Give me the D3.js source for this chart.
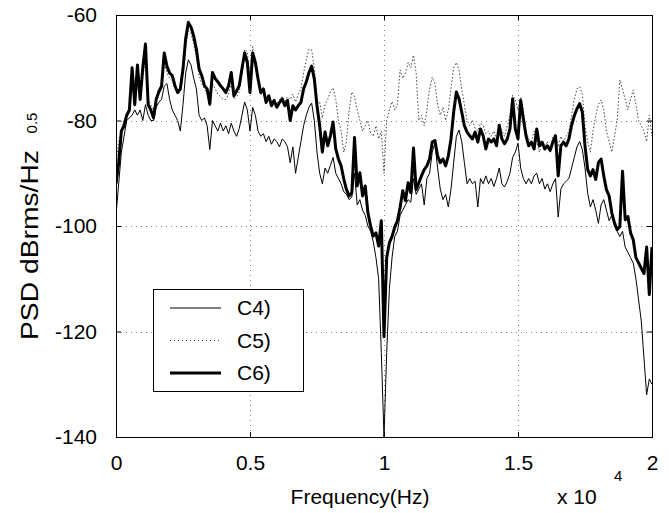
<!DOCTYPE html>
<html lang="en">
<head>
  <meta charset="UTF-8">
  <title>PSD</title>
  <style>
    * { margin: 0; padding: 0; box-sizing: border-box; }
    body { background: #fff; width: 669px; height: 513px; overflow: hidden; }
    svg { font-family: "Liberation Sans", Arial, sans-serif; }
    .tick text { font-size: 21px; fill: #000; }
  </style>
</head>
<body>
  <div id="chart"></div>
  <script src="https://d3js.org/d3.v7.min.js"></script>
  <script>
    // frequency axis, units of 10^4 Hz
    const freq = d3.range(0, 201).map(i => i / 100);

    const xTicks = [0, 0.5, 1, 1.5, 2];
    const yTicks = [-140, -120, -100, -80, -60];
    const seriesNames = ["C4)", "C5)", "C6)"];

    // C4) thin solid
    const c4 = [
      -98, -92, -86, -83, -80, -79.5, -79, -78, -79, -78,
      -80, -77, -79, -80, -80, -77.5, -76.5, -76, -73.5, -73,
      -76, -78, -79, -80, -82, -77, -71, -68.5, -69.5, -72,
      -74, -79, -80, -79.5, -81, -85.5, -80, -81, -82, -80.5,
      -82, -81, -82.5, -80.5, -82, -83, -81.5, -79, -76.5, -78,
      -82, -77.5, -79, -82, -83, -82.5, -84, -83, -84.5, -83.5,
      -84, -85, -83.5, -84, -85, -88, -85, -90, -87, -84,
      -81, -79, -77.5, -76.7, -80, -86, -90, -92, -89, -90,
      -88.5, -87, -90, -91, -92, -93.5, -94, -95, -94.5, -90,
      -96, -95, -97, -98, -100, -101, -103, -106, -110, -124,
      -140, -124, -112, -106, -102, -101, -98, -97, -96, -95,
      -95.5, -91, -94, -93, -92, -96, -91, -90, -86, -84.3,
      -89, -93, -95, -94, -96.4, -93, -88, -83, -81.8, -84,
      -88, -92, -91, -92, -91.5, -96.4, -91, -92, -90.5, -92,
      -91, -92.5, -91, -89, -92, -92.6, -91.5, -90, -87, -86,
      -84.3, -89, -91, -92, -91, -92, -90.5, -90, -92, -91,
      -93, -92, -93.5, -92, -91, -98.3, -93, -92, -91.5, -91,
      -89, -87, -85, -84, -85.5, -89, -93.8, -96.4, -95, -97,
      -99.5, -96, -95, -97, -99, -98, -100, -101, -102, -101,
      -104, -105, -106, -107, -110, -114, -118, -125, -132, -129,
      -130
    ];

    // C5) dotted
    const c5 = [
      -88, -84, -82, -80, -79, -78, -73, -76, -72, -75,
      -72, -68, -76, -77, -78, -76, -75, -74, -69, -71,
      -72, -72.5, -74, -75, -74.5, -71, -66, -63, -63.5, -65.5,
      -68, -71.5, -73, -74, -75, -76.5, -73, -74, -75, -75.5,
      -76, -76, -75, -73, -76, -75.5, -74.5, -71, -66.5, -67,
      -72, -66, -69, -73, -75, -75, -76, -76, -77, -76,
      -77, -76, -75.5, -76.5, -75.5, -76, -75, -76.5, -75, -74,
      -71, -68.5, -66.5, -66.6, -70, -77, -76.5, -79.5, -77, -76,
      -74.5, -73.8, -76, -80, -82, -86, -84, -78, -74.6, -75.5,
      -78, -80, -82, -81, -80, -82.4, -83, -81, -83.5, -82,
      -90, -80, -78, -76.4, -78, -77, -70.4, -72, -71, -69,
      -70, -67.6, -71, -80, -79, -81, -78, -74, -71.8, -73,
      -77, -79, -77.5, -80, -78, -74, -70, -69, -70.5, -74,
      -77, -80, -81, -80, -81.5, -82, -80.5, -81, -82.5, -82,
      -83, -82, -83.5, -81, -82, -83, -81, -79, -75.2, -76,
      -78, -75.5, -78, -82, -83.5, -84, -82, -84, -86, -84,
      -85, -84, -86, -83, -82.5, -85, -83, -84, -83, -82,
      -79, -76, -74, -73.6, -75, -81, -84, -86, -82, -79,
      -77, -76.1, -78, -82, -84, -86, -83, -80, -72.3, -74,
      -76, -78, -76, -74.2, -77, -80, -81, -82, -84, -79,
      -83
    ];

    // C6) thick solid
    const c6 = [
      -92, -88, -82, -81, -79, -78, -70, -77, -69.5, -76,
      -70, -65.5, -77, -78, -79.5, -76, -74.5, -73.5, -67.2, -69.7,
      -71, -71.5, -73.4, -74.7, -74, -70.2, -64.5, -61.4, -62.3, -64,
      -66.5, -70.2, -71.5, -73.4, -74, -76.9, -70.9, -72, -72.7, -73.4,
      -74, -74.7, -73.4, -70.9, -75.3, -74.4, -73.4, -70.2, -67.2, -69,
      -74.7, -67.2, -69, -72.1, -74.7, -74, -76.6, -75.3, -77.2, -76.2,
      -77.5, -76.6, -75.9, -77.2, -76.2, -80, -77.2, -78, -77.2, -76.6,
      -74, -72.7, -70.9, -69.7, -72.1, -77.2, -81, -86, -82.2, -84.8,
      -82.9, -80.3, -85.4, -87.3, -88.6, -91.1, -93.1, -94.3, -93.7, -83.2,
      -92.4, -89.9, -94.3, -92.4, -97.5, -100, -101.9, -101.3, -103.8, -99,
      -121, -106, -103.2, -102, -100.2, -99, -96.5, -93.3, -95.2, -91.8,
      -93.7, -85.2, -93.1, -91.8, -90.5, -89.3, -88.6, -87.3, -84.1, -83.8,
      -86.7, -88, -87.3, -88.6, -86.7, -83.5, -78.4, -74.6, -75.9, -78.4,
      -81, -82.2, -82.9, -83.5, -82.2, -84.1, -81.6, -82.9, -85.4, -83.5,
      -84.1, -83.5, -84.8, -80.9, -83.5, -84.4, -83.5, -81.6, -75.9, -81.6,
      -83.5, -76.2, -79.7, -82.9, -84.8, -84.1, -85.4, -81.6, -84.8, -84.1,
      -85.4, -84.8, -85.7, -84.1, -82.9, -90.5, -84.8, -84.1, -84.8, -83.5,
      -80.9, -79.1, -77.8, -76.8, -78.4, -84.8, -89.3, -90.5, -89.3, -91.2,
      -88, -87.3, -90.5, -93.1, -94.3, -97.5, -99.4, -100.7, -100.1, -89.6,
      -98.8, -98.2, -101.3, -102.6, -106, -107, -108, -109, -104, -113,
      -104
    ];

    const width = 669;
    const height = 513;
    const margin = { top: 15, right: 17, bottom: 76, left: 116 };

    const svg = d3.select("#chart")
      .append("svg")
      .attr("width", width)
      .attr("height", height);

    const x = d3.scaleLinear().domain([0, 2]).range([margin.left, width - margin.right]);
    const y = d3.scaleLinear().domain([-140, -60]).range([height - margin.bottom, margin.top]);

    // grid
    const grid = svg.append("g")
      .attr("stroke", "#808080")
      .attr("stroke-width", 1)
      .attr("stroke-dasharray", "1,4");

    grid.selectAll("line.gx")
      .data(xTicks.slice(1, -1))
      .join("line")
      .attr("x1", d => Math.round(x(d)) + 0.5)
      .attr("x2", d => Math.round(x(d)) + 0.5)
      .attr("y1", y.range()[1])
      .attr("y2", y.range()[0]);

    grid.selectAll("line.gy")
      .data(yTicks.slice(1, -1))
      .join("line")
      .attr("x1", x.range()[0])
      .attr("x2", x.range()[1])
      .attr("y1", d => Math.round(y(d)) + 0.5)
      .attr("y2", d => Math.round(y(d)) + 0.5);

    // curves
    const line = d3.line()
      .x((d, i) => x(freq[i]))
      .y(d => y(d));

    const styles = [
      { data: c4, width: 1, dash: null, color: "#000" },
      { data: c5, width: 1, dash: "1.5,2", color: "#444" },
      { data: c6, width: 3, dash: null, color: "#000" }
    ];

    svg.append("clipPath").attr("id", "plot")
      .append("rect")
      .attr("x", x.range()[0]).attr("y", y.range()[1])
      .attr("width", x.range()[1] - x.range()[0])
      .attr("height", y.range()[0] - y.range()[1]);

    svg.append("g")
      .attr("clip-path", "url(#plot)")
      .selectAll("path")
      .data(styles)
      .join("path")
      .attr("fill", "none")
      .attr("stroke", d => d.color)
      .attr("stroke-width", d => d.width)
      .attr("stroke-dasharray", d => d.dash)
      .attr("stroke-linejoin", "round")
      .attr("d", d => line(d.data));

    // axes, ticks pointing inward
    const fmt = d => String(d);
    svg.append("g")
      .attr("transform", `translate(${x.range()[0]},0)`)
      .call(d3.axisLeft(y).tickValues(yTicks).tickSize(-5).tickPadding(19).tickFormat(fmt))
      .call(g => g.select(".domain").remove());

    svg.append("g")
      .attr("transform", `translate(${x.range()[1]},0)`)
      .call(d3.axisRight(y).tickValues(yTicks).tickSize(-5).tickFormat(""))
      .call(g => g.select(".domain").remove());

    svg.append("g")
      .attr("transform", `translate(0,${y.range()[0]})`)
      .call(d3.axisBottom(x).tickValues(xTicks).tickSize(-5).tickPadding(18).tickFormat(fmt))
      .call(g => g.select(".domain").remove());

    svg.append("g")
      .attr("transform", `translate(0,${y.range()[1]})`)
      .call(d3.axisTop(x).tickValues(xTicks).tickSize(-5).tickFormat(""))
      .call(g => g.select(".domain").remove());

    svg.selectAll(".tick line").attr("stroke", "#000");

    // box
    svg.append("rect")
      .attr("x", x.range()[0] + 0.5)
      .attr("y", y.range()[1] + 0.5)
      .attr("width", x.range()[1] - x.range()[0])
      .attr("height", y.range()[0] - y.range()[1])
      .attr("fill", "none")
      .attr("stroke", "#000")
      .attr("stroke-width", 1);

    // axis labels
    svg.append("text")
      .attr("transform", "translate(38,245) rotate(-90)")
      .attr("text-anchor", "middle")
      .attr("font-size", 23)
      .attr("textLength", 190)
      .attr("lengthAdjust", "spacingAndGlyphs")
      .text("PSD dBrms/Hz");

    svg.append("text")
      .attr("transform", "translate(37,123) rotate(-90)")
      .attr("text-anchor", "middle")
      .attr("font-size", 15)
      .text("0.5");

    svg.append("text")
      .attr("x", 360)
      .attr("y", 504)
      .attr("text-anchor", "middle")
      .attr("font-size", 21)
      .text("Frequency(Hz)");

    svg.append("text")
      .attr("x", 557)
      .attr("y", 504)
      .attr("font-size", 21)
      .text("x 10");

    svg.append("text")
      .attr("x", 614)
      .attr("y", 481)
      .attr("font-size", 15)
      .text("4");

    // legend
    const legend = svg.append("g");
    legend.append("rect")
      .attr("x", 153.5).attr("y", 289.5)
      .attr("width", 150).attr("height", 102)
      .attr("fill", "#fff")
      .attr("stroke", "#000");

    const rows = legend.selectAll("g.row")
      .data(styles.map((s, i) => ({ ...s, name: seriesNames[i] })))
      .join("g")
      .attr("transform", (d, i) => `translate(0,${308 + i * 32.5})`);

    rows.append("line")
      .attr("x1", 170).attr("x2", 221)
      .attr("stroke", d => d.color)
      .attr("stroke-width", d => d.width)
      .attr("stroke-dasharray", d => d.dash ? "1,3" : null);

    rows.append("text")
      .attr("x", 237)
      .attr("y", 7)
      .attr("font-size", 21)
      .text(d => d.name);
  </script>
</body>
</html>
